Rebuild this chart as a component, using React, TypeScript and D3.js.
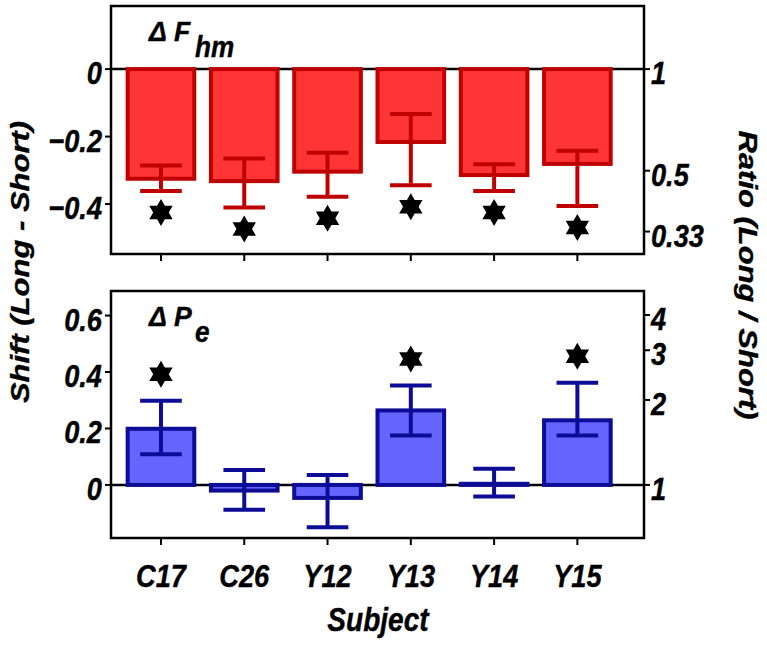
import React from 'react';
import * as d3 from 'd3';

const subjects = ['C17', 'C26', 'Y12', 'Y13', 'Y14', 'Y15'];

const fhmShift = [-0.325, -0.332, -0.304, -0.216, -0.314, -0.281];
const fhmErrHigh = [-0.286, -0.265, -0.248, -0.133, -0.282, -0.242];
const fhmErrLow = [-0.361, -0.41, -0.378, -0.344, -0.361, -0.406];
const fhmSig = [true, true, true, true, true, true];

const peShift = [0.199, -0.02, -0.046, 0.264, 0.004, 0.229];
const peErrHigh = [0.298, 0.053, 0.035, 0.352, 0.057, 0.362];
const peErrLow = [0.109, -0.088, -0.15, 0.175, -0.041, 0.175];
const peSig = [true, false, false, true, false, true];

const fhmLeftTicks = [0, -0.2, -0.4];
const fhmRatioTicks = [1, 0.5, 0.33];
const peLeftTicks = [0, 0.2, 0.4, 0.6];
const peRatioTicks = [1, 2, 3, 4];

const FONT = '"Liberation Sans", Arial, Helvetica, sans-serif';
const SQ = 0.85;

function hexagram(cx: number, cy: number, R: number) {
  const r = R / Math.sqrt(3);
  const pts: [number, number][] = [];
  for (let k = 0; k < 12; k++) {
    const a = ((-90 + k * 30) * Math.PI) / 180;
    const rr = k % 2 === 0 ? R : r;
    pts.push([cx + rr * Math.cos(a), cy + rr * Math.sin(a)]);
  }
  return d3.line()(pts)! + 'Z';
}

function HText(props: { x: number; y: number; size: number; anchor?: string; sq?: number; children: any }) {
  return (
    <text
      transform={`translate(${props.x},${props.y}) scale(${props.sq ?? SQ},1)`}
      fontFamily={FONT}
      fontWeight="bold"
      fontStyle="italic"
      fontSize={props.size}
      textAnchor={props.anchor || 'start'}
      fill="#000"
      stroke="#000"
      strokeWidth={0.4}
    >
      {props.children}
    </text>
  );
}

const xScale = d3.scaleLinear().domain([-0.6, 5.8]).range([111, 644]);

type PanelProps = {
  top: number;
  bottom: number;
  domain: [number, number];
  values: number[];
  hi: number[];
  lo: number[];
  sig: boolean[];
  leftTicks: number[];
  ratioTicks: number[];
  fill: string;
  stroke: string;
  letter: string;
  sub: string;
  labelY: number;
  subY: number;
  starOffset: number;
  starAbove: boolean;
};

function Panel(p: PanelProps) {
  const y = d3.scaleLinear().domain(p.domain).range([p.bottom, p.top]);
  const [x0, x1] = xScale.range();
  const bw = xScale(0.8) - xScale(0);
  const cw = xScale(0.5) - xScale(0);
  return (
    <g>
      <line x1={x0} x2={x1} y1={y(0)} y2={y(0)} stroke="#000" strokeWidth={2.5} />
      {subjects.map((s, i) => {
        const cx = xScale(i);
        const v = p.values[i];
        const yTop = y(Math.max(0, v));
        const yBot = y(Math.min(0, v));
        const starY = p.starAbove ? y(p.hi[i]) - p.starOffset : y(p.lo[i]) + p.starOffset;
        return (
          <g key={s}>
            <rect
              x={cx - bw / 2}
              y={yTop}
              width={bw}
              height={Math.max(0.5, yBot - yTop)}
              fill={p.fill}
              stroke={p.stroke}
              strokeWidth={4}
            />
            <line x1={cx} x2={cx} y1={y(p.hi[i])} y2={y(p.lo[i])} stroke={p.stroke} strokeWidth={4} />
            <line x1={cx - cw / 2} x2={cx + cw / 2} y1={y(p.hi[i])} y2={y(p.hi[i])} stroke={p.stroke} strokeWidth={4} />
            <line x1={cx - cw / 2} x2={cx + cw / 2} y1={y(p.lo[i])} y2={y(p.lo[i])} stroke={p.stroke} strokeWidth={4} />
            {p.sig[i] && <path d={hexagram(cx, starY, 13.5)} fill="#000" />}
            <line x1={cx} x2={cx} y1={p.bottom} y2={p.bottom + 7} stroke="#000" strokeWidth={2} />
          </g>
        );
      })}
      <rect x={x0} y={p.top} width={x1 - x0} height={p.bottom - p.top} fill="none" stroke="#000" strokeWidth={2.5} />
      {p.leftTicks.map((t) => (
        <g key={'l' + t}>
          <line x1={x0 - 6} x2={x0} y1={y(t)} y2={y(t)} stroke="#000" strokeWidth={2} />
          <HText x={x0 - 9} y={y(t) + 15} size={32} anchor="end">
            {t === 0 ? '0' : d3.format('.1f')(t)}
          </HText>
        </g>
      ))}
      {p.ratioTicks.map((t) => (
        <g key={'r' + t}>
          <line x1={x1} x2={x1 + 6} y1={y(Math.log10(t))} y2={y(Math.log10(t))} stroke="#000" strokeWidth={2} />
          <HText x={x1 + 7} y={y(Math.log10(t)) + 15} size={32}>
            {String(t)}
          </HText>
        </g>
      ))}
      <HText x={149} y={p.labelY} size={28} sq={0.95}>
        {'\u0394'}
      </HText>
      <HText x={174} y={p.labelY} size={28} sq={0.95}>
        {p.letter}
      </HText>
      <HText x={195} y={p.subY} size={29} sq={0.9}>
        {p.sub}
      </HText>
    </g>
  );
}

export default function App() {
  return (
    <svg
      width={767}
      height={645}
      style={{ position: 'absolute', left: 0, top: 0, background: '#fff' }}
    >
      <rect x={0} y={0} width={767} height={645} fill="#fff" />
      <Panel
        top={6}
        bottom={254}
        domain={[-0.548, 0.187]}
        values={fhmShift}
        hi={fhmErrHigh}
        lo={fhmErrLow}
        sig={fhmSig}
        leftTicks={fhmLeftTicks}
        ratioTicks={fhmRatioTicks}
        fill="#ff3434"
        stroke="#bf0000"
        letter="F"
        sub="hm"
        labelY={41}
        subY={57}
        starOffset={21.5}
        starAbove={false}
      />
      <Panel
        top={291}
        bottom={538}
        domain={[-0.188, 0.687]}
        values={peShift}
        hi={peErrHigh}
        lo={peErrLow}
        sig={peSig}
        leftTicks={peLeftTicks}
        ratioTicks={peRatioTicks}
        fill="#6464ff"
        stroke="#0c0c96"
        letter="P"
        sub="e"
        labelY={326}
        subY={342}
        starOffset={26.5}
        starAbove={true}
      />
      {subjects.map((s, i) => (
        <HText key={s} x={xScale(i)} y={587} size={32} anchor="middle">
          {s}
        </HText>
      ))}
      <HText x={378} y={631} size={33} anchor="middle">
        Subject
      </HText>
      <text
        transform={`translate(29,262) rotate(-90) scale(1,${SQ})`}
        fontFamily={FONT}
        fontWeight="bold"
        fontStyle="italic"
        fontSize={31}
        textAnchor="middle"
        stroke="#000"
        strokeWidth={0.4}
      >
        Shift (Long - Short)
      </text>
      <text
        transform={`translate(739,275) rotate(90) scale(1,${SQ})`}
        fontFamily={FONT}
        fontWeight="bold"
        fontStyle="italic"
        fontSize={31}
        textAnchor="middle"
        stroke="#000"
        strokeWidth={0.4}
      >
        Ratio (Long / Short)
      </text>
    </svg>
  );
}
